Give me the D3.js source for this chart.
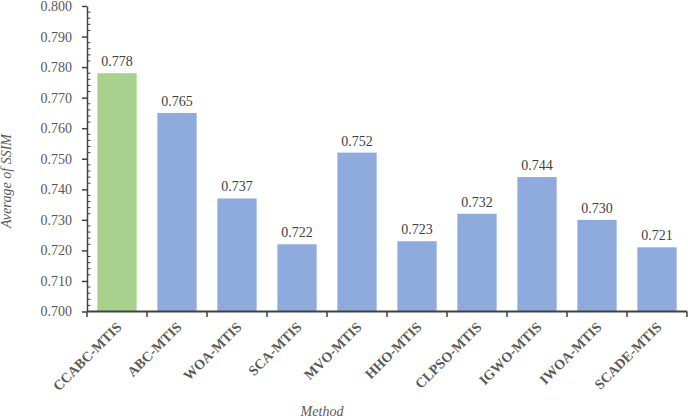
<!DOCTYPE html>
<html>
<head>
<meta charset="utf-8">
<script src="https://cdn.jsdelivr.net/npm/d3@7"></script>
<style>
  body { margin: 0; background: #fff; }
  svg text { font-family: "Times New Roman", "Liberation Serif", Tinos, Times, serif; }
</style>
</head>
<body>
<div id="chart"></div>
<script>
// data
const methods = ["CCABC-MTIS", "ABC-MTIS", "WOA-MTIS", "SCA-MTIS", "MVO-MTIS",
  "HHO-MTIS", "CLPSO-MTIS", "IGWO-MTIS", "IWOA-MTIS", "SCADE-MTIS"];
const ssim = [0.778, 0.765, 0.737, 0.722, 0.752, 0.723, 0.732, 0.744, 0.730, 0.721];
const yTicks = [0.70, 0.71, 0.72, 0.73, 0.74, 0.75, 0.76, 0.77, 0.78, 0.79, 0.80];

const W = 688, H = 420;
const margin = { top: 6, right: 1, bottom: 108.5, left: 87 },
  width = W - margin.left - margin.right,
  height = H - margin.top - margin.bottom;
const fs = "14px";

const svg = d3.select("#chart").append("svg")
  .attr("width", W).attr("height", H)
  .append("g")
  .attr("transform", `translate(${margin.left},${margin.top})`);

const x = d3.scaleBand().domain(methods).range([0, width]).paddingInner(0.345).paddingOuter(0.1725);
const xb = d3.scaleBand().domain(methods).range([0, width]); // category boundaries for ticks
const y = d3.scaleLinear().domain([0.7, 0.8]).range([height, 0]);

// minor ticks (inside)
const minor = d3.range(0.702, 0.8, 0.002).filter(v => Math.abs(v * 100 - Math.round(v * 100)) > 1e-6);
svg.selectAll(".minor").data(minor).enter().append("line")
  .attr("x1", 0).attr("x2", 3.5)
  .attr("y1", d => y(d)).attr("y2", d => y(d))
  .attr("stroke", "#404040").attr("stroke-width", 1);

// y axis
const yAxis = svg.append("g")
  .call(d3.axisLeft(y).tickValues(yTicks).tickFormat(d3.format(".3f")).tickSize(5).tickSizeOuter(0));
yAxis.attr("font-family", null);
yAxis.select(".domain").attr("stroke", "#404040").attr("stroke-width", 1.5);
yAxis.selectAll(".tick line").attr("stroke", "#404040").attr("stroke-width", 1.5);
yAxis.selectAll(".tick text")
  .attr("x", -15)
  .style("font-size", fs).style("fill", "#595959");

// bars
svg.selectAll(".bar").data(methods).enter().append("rect")
  .attr("x", d => x(d))
  .attr("width", x.bandwidth())
  .attr("y", (d, i) => y(ssim[i]))
  .attr("height", (d, i) => height - y(ssim[i]))
  .attr("fill", (d, i) => i === 0 ? "#a9d18e" : "#8faadc");

// value labels
svg.selectAll(".val").data(methods).enter().append("text")
  .attr("x", d => x(d) + x.bandwidth() / 2)
  .attr("y", (d, i) => y(ssim[i]) - 7)
  .attr("text-anchor", "middle")
  .style("font-size", fs).style("fill", "#404040")
  .text((d, i) => d3.format(".3f")(ssim[i]));

// x axis
const xg = svg.append("g").attr("transform", `translate(0,${height})`);
xg.append("line").attr("x1", 0).attr("x2", width)
  .attr("stroke", "#404040").attr("stroke-width", 2);
xg.selectAll(".xt").data(methods.concat(["end"])).enter().append("line")
  .attr("x1", (d, i) => i * xb.step()).attr("x2", (d, i) => i * xb.step())
  .attr("y1", 0).attr("y2", 5.5)
  .attr("stroke", "#404040").attr("stroke-width", 1.5);
xg.selectAll(".xl").data(methods).enter().append("text")
  .attr("transform", d => `translate(${xb(d) + xb.bandwidth() / 2 + 2},${13}) rotate(-45)`)
  .attr("text-anchor", "end")
  .attr("dy", "0.35em")
  .style("font-size", fs).style("font-weight", "bold").style("fill", "#595959")
  .text(d => d);

// axis titles
svg.append("text")
  .attr("transform", `translate(${11 - margin.left},${181 - margin.top}) rotate(-90)`)
  .attr("text-anchor", "middle")
  .style("font-size", fs).style("font-style", "italic").style("fill", "#595959")
  .text("Average of SSIM");

svg.append("text")
  .attr("x", 322 - margin.left)
  .attr("y", 416 - margin.top)
  .attr("text-anchor", "middle")
  .style("font-size", fs).style("font-style", "italic").style("fill", "#595959")
  .text("Method");
</script>
</body>
</html>
